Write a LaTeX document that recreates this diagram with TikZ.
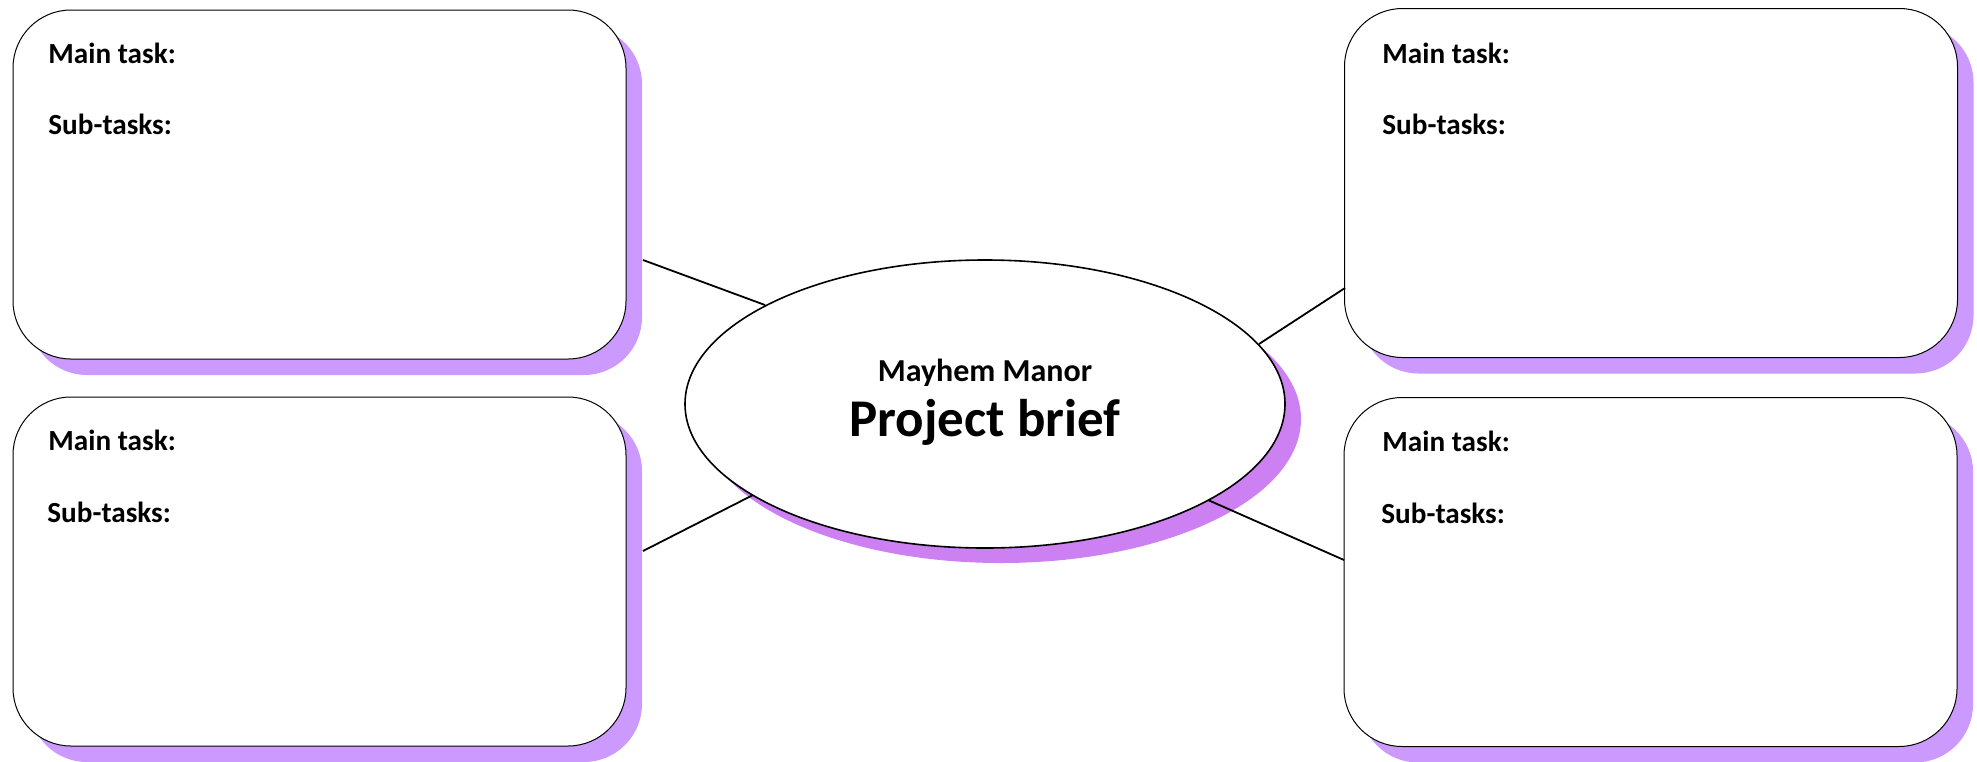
\documentclass[tikz,border=0pt]{standalone}
\usepackage{fontspec}
\setmainfont{Carlito}
\usetikzlibrary{shapes.geometric,shadows}
\definecolor{boxshadow}{RGB}{204,153,255}
\definecolor{ellshadow}{RGB}{204,128,242}
\begin{document}
\begin{tikzpicture}[x=0.5pt,y=-0.5pt,
  taskbox/.style={draw=black,line width=0.5pt,fill=white,rounded corners=29pt,
    minimum width=306.5pt,minimum height=174.5pt,inner sep=0pt,outer sep=0pt,
    general shadow={fill=boxshadow,shadow xshift=8pt,shadow yshift=-8pt}},
  centre/.style={ellipse,draw=black,line width=0.8pt,fill=white,
    minimum width=300pt,minimum height=144pt,inner sep=0pt,outer sep=0pt,
    general shadow={fill=ellshadow,shadow xshift=8pt,shadow yshift=-7.5pt}},
  label/.style={anchor=base west,inner sep=0pt,font=\bfseries\fontsize{14.6pt}{17pt}\selectfont},
  link/.style={draw=black,line width=0.9pt}]
\useasboundingbox (0,0) rectangle (1977,761);
\node[taskbox] (tl) at (319.5,184.5) {};
\node[taskbox] (bl) at (319.5,571.5) {};
\node[taskbox] (tr) at (1651,183) {};
\node[taskbox] (br) at (1650.5,572) {};
\node[centre] (ell) at (985,404) {};
\node[label] (tlmain) at (48,63) {Main task:};
\node[label] (tlsub) at (48,134) {Sub-tasks:};
\node[label] (blmain) at (48,450) {Main task:};
\node[label] (blsub) at (47,522) {Sub-tasks:};
\node[label] (trmain) at (1382,63) {Main task:};
\node[label] (trsub) at (1382,134) {Sub-tasks:};
\node[label] (brmain) at (1382,451) {Main task:};
\node[label] (brsub) at (1381,523) {Sub-tasks:};
\node[anchor=base,inner sep=0pt,font=\bfseries\fontsize{16pt}{19pt}\selectfont] (sub) at (985,381) {Mayhem Manor};
\node[anchor=base,inner sep=0pt,font=\bfseries\fontsize{26.5pt}{31pt}\selectfont] (title) at (985,436) {Project brief};
\coordinate (tlend) at (643,260);
\coordinate (tlell) at (765,305);
\coordinate (trend) at (1345,288);
\coordinate (trell) at (1259,344);
\coordinate (blend) at (643,551);
\coordinate (blell) at (753,495);
\coordinate (brend) at (1344,560);
\coordinate (brell) at (1208,500);
\draw[link] (tlend) -- (tlell);
\draw[link] (trell) -- (trend);
\draw[link] (blend) -- (blell);
\draw[link] (brell) -- (brend);
\end{tikzpicture}
\end{document}
